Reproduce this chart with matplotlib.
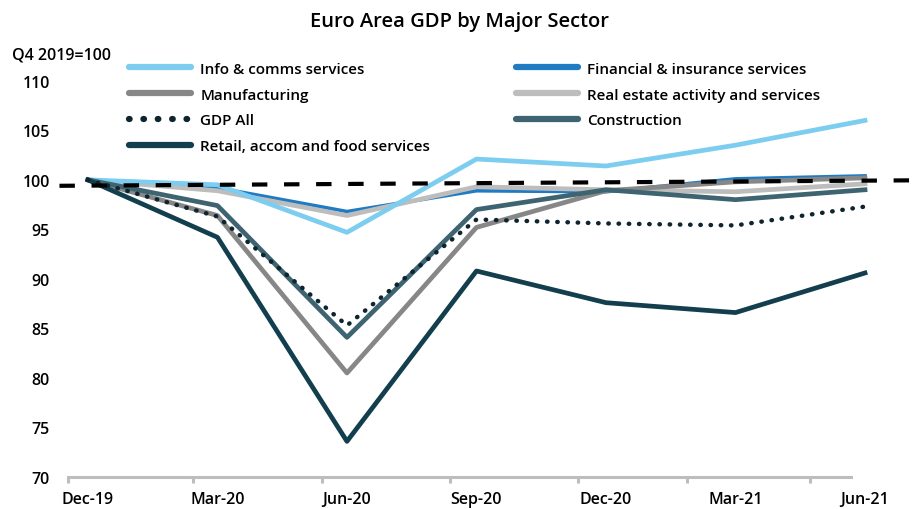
import matplotlib.pyplot as plt
import numpy as np

plt.rcParams['font.family'] = ['Open Sans', 'DejaVu Sans']

quarters = ['Dec-19', 'Mar-20', 'Jun-20', 'Sep-20', 'Dec-20', 'Mar-21', 'Jun-21']

info_comms = [100, 99.5, 94.7, 102.1, 101.4, 103.5, 106.0]
manufacturing = [100, 96.4, 80.5, 95.2, 98.9, 99.8, 100.2]
gdp_all = [100, 96.3, 85.3, 96.0, 95.6, 95.4, 97.3]
retail = [100, 94.2, 73.6, 90.8, 87.6, 86.6, 90.6]
financial = [100, 99.2, 96.8, 98.9, 98.8, 100.1, 100.4]
real_estate = [100, 98.9, 96.4, 99.3, 99.0, 98.8, 99.6]
construction = [100, 97.4, 84.1, 97.0, 99.0, 98.0, 99.0]

# hand-drawn baseline around 100
ref_x = [-0.22, 6.35]
ref_y = [99.4, 99.95]

# tick marks on the date axis sit a little left of each quarter
tick_pos = [-0.154, 0.811, 1.807, 2.795, 3.784, 4.625, 5.575]

fig = plt.figure(figsize=(9.19, 5.10), dpi=100)
ax = fig.add_axes([68/919, 32/510, 1 - 68/919, 416/510])

x = np.arange(len(quarters))
lw = 3.4
l_fin, = ax.plot(x, financial, color='#1F7BC4', lw=2.6, label='Financial & insurance services')
l_re, = ax.plot(x, real_estate, color='#BDBDBD', lw=lw, label='Real estate activity and services')
l_info, = ax.plot(x, info_comms, color='#7CCDF0', lw=lw, label='Info & comms services')
l_man, = ax.plot(x, manufacturing, color='#878787', lw=lw, label='Manufacturing')
l_con, = ax.plot(x, construction, color='#3D6470', lw=lw, label='Construction')
l_ret, = ax.plot(x, retail, color='#123E4D', lw=lw, label='Retail, accom and food services')
l_gdp, = ax.plot(x, gdp_all, color='#0E2530', lw=3.2, ls=(0, (0.1, 2.2)),
                 dash_capstyle='round', label='GDP All')

ax.plot(ref_x, ref_y, color='black', lw=3, ls=(0, (3.7, 4)), clip_on=False)

ax.set_xlim(-0.154, (919 - 88) / 129.5)
ax.set_ylim(70, 112)

for s in ['top', 'right', 'left']:
    ax.spines[s].set_visible(False)
ax.spines['bottom'].set_color('#BDBDBD')
ax.spines['bottom'].set_linewidth(2.2)
ax.spines['bottom'].set_bounds(-0.154, 5.89)

ax.set_yticks(np.arange(70, 111, 5))
ax.tick_params(axis='y', length=0, pad=13, labelsize=11.5)
ax.set_xticks(x)
ax.set_xticklabels(quarters)
ax.tick_params(axis='x', which='major', length=0, pad=10, labelsize=11.5)
ax.set_xticks(tick_pos, minor=True)
ax.tick_params(axis='x', which='minor', length=4, width=2.2, color='#BDBDBD')
for t in ax.get_xticklabels() + ax.get_yticklabels():
    t.set_fontweight('semibold')

fig.text(0.5, 1 - 22/510, 'Euro Area GDP by Major Sector', ha='center', va='center',
         fontsize=14.5, fontweight='semibold')
fig.text(12/919, 1 - 56/510, 'Q4 2019=100', ha='left', va='center',
         fontsize=11.5, fontweight='semibold')

leg_kw = dict(frameon=False, handlelength=4.1, handletextpad=0.6, borderpad=0,
              labelspacing=0.78, prop={'size': 11, 'weight': 'semibold'})
leg1 = fig.legend(handles=[l_info, l_man, l_gdp, l_ret], loc='upper left',
                  bbox_to_anchor=(121/919, 1 - 55/510), **leg_kw)
leg2 = fig.legend(handles=[l_fin, l_re, l_con], loc='upper left',
                  bbox_to_anchor=(508/919, 1 - 55/510), **leg_kw)
for leg in (leg1, leg2):
    for h in leg.get_lines():
        h.set_linewidth(4.5)
        h.set_solid_capstyle('round')

fig.savefig('out.png', dpi=100)
